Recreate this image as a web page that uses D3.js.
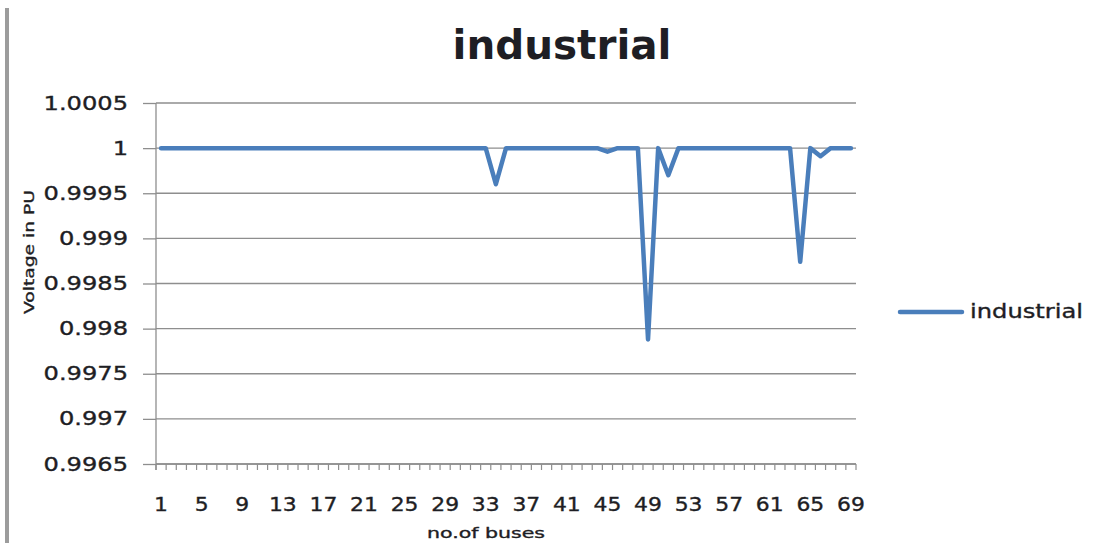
<!DOCTYPE html>
<html>
<head>
<meta charset="utf-8">
<script src="https://cdn.jsdelivr.net/npm/d3@7"></script>
<style>
  html, body { margin: 0; padding: 0; background: #fff; }
  svg { display: block; }
  text { font-family: "DejaVu Sans", Verdana, sans-serif; fill: #1e1e24; }
  text.label { stroke: #1e1e24; stroke-width: 0.35px; }
</style>
</head>
<body>
<svg id="chart" width="1115" height="543"></svg>
<script>
// Bus numbers along the feeder
const buses = [
  1, 2, 3, 4, 5, 6, 7, 8, 9, 10, 11, 12, 13, 14, 15, 16, 17, 18, 19, 20,
  21, 22, 23, 24, 25, 26, 27, 28, 29, 30, 31, 32, 33, 34, 35, 36, 37, 38, 39, 40,
  41, 42, 43, 44, 45, 46, 47, 48, 49, 50, 51, 52, 53, 54, 55, 56, 57, 58, 59, 60,
  61, 62, 63, 64, 65, 66, 67, 68, 69
];

// Per-unit voltage at each bus, industrial load case
const industrial = [
  1, 1, 1, 1, 1, 1, 1, 1, 1, 1, 1, 1, 1, 1, 1, 1, 1, 1, 1, 1,
  1, 1, 1, 1, 1, 1, 1, 1, 1, 1, 1, 1, 1, 0.9996, 1, 1, 1, 1, 1, 1,
  1, 1, 1, 1, 0.99996, 1, 1, 1, 0.99788, 1, 0.9997, 1, 1, 1, 1, 1, 1, 1, 1, 1,
  1, 1, 1, 0.99874, 1, 0.99991, 1, 1, 1
];

// Value axis ticks and their printed labels
const yTicks = [0.9965, 0.997, 0.9975, 0.998, 0.9985, 0.999, 0.9995, 1, 1.0005];
const yTickLabels = ["0.9965", "0.997", "0.9975", "0.998", "0.9985", "0.999", "0.9995", "1", "1.0005"];

// Category labels shown on the bus axis
const xTickLabels = [1, 5, 9, 13, 17, 21, 25, 29, 33, 37, 41, 45, 49, 53, 57, 61, 65, 69];

const svg = d3.select("#chart");

const plotLeft = 156, plotRight = 856, plotTop = 103, plotBottom = 464;
const widen = 1.27;

// Stretch text horizontally to the width of the chart's lettering
function stretch(sel, k) {
  sel.each(function () {
    const w = this.getComputedTextLength();
    this.setAttribute("textLength", w * k);
    this.setAttribute("lengthAdjust", "spacingAndGlyphs");
  });
}

// Frame edge on the left side
svg.append("rect")
  .attr("x", 5).attr("y", 8).attr("width", 4).attr("height", 535)
  .attr("fill", "#9c9c9c");

const x = d3.scaleBand().domain(buses).range([plotLeft, plotRight]).padding(0);
const y = d3.scaleLinear().domain([0.9965, 1.0005]).range([plotBottom, plotTop]);

// Horizontal gridlines
svg.append("g")
  .selectAll("line")
  .data(yTicks)
  .join("line")
  .attr("x1", plotLeft).attr("x2", plotRight)
  .attr("y1", d => y(d)).attr("y2", d => y(d))
  .attr("stroke", "#8e8e8e")
  .attr("stroke-width", 1.3);

// Value axis
const yAxis = svg.append("g")
  .attr("transform", `translate(${plotLeft},0)`)
  .call(d3.axisLeft(y)
    .tickValues(yTicks)
    .tickFormat((d, i) => yTickLabels[i])
    .tickSize(13)
    .tickSizeOuter(0)
    .tickPadding(15));
yAxis.select(".domain").remove();
yAxis.selectAll(".tick line").attr("stroke", "#8e8e8e").attr("stroke-width", 1.3);
yAxis.selectAll(".tick text")
  .attr("class", "label")
  .style("font-size", "19px")
  .attr("fill", "#1e1e24")
  .call(stretch, widen);
yAxis.append("line")
  .attr("x1", 0).attr("x2", 0).attr("y1", plotTop).attr("y2", plotBottom + 6)
  .attr("stroke", "#8e8e8e").attr("stroke-width", 1.3);

// Category axis with a tick at every bus boundary
const xAxis = svg.append("g").attr("transform", `translate(0,${plotBottom})`);
xAxis.append("line")
  .attr("x1", plotLeft).attr("x2", plotRight).attr("y1", 0).attr("y2", 0)
  .attr("stroke", "#8e8e8e").attr("stroke-width", 1.3);
xAxis.selectAll("line.minor")
  .data(buses.map(b => x(b)).concat([x.range()[1]]))
  .join("line")
  .attr("class", "minor")
  .attr("x1", d => d).attr("x2", d => d)
  .attr("y1", 0).attr("y2", 6)
  .attr("stroke", "#8e8e8e").attr("stroke-width", 1.2);

const xLabels = svg.append("g")
  .attr("transform", `translate(0,${plotBottom})`)
  .call(d3.axisBottom(x)
    .tickValues(xTickLabels)
    .tickSize(0)
    .tickPadding(34));
xLabels.select(".domain").remove();
xLabels.selectAll(".tick text")
  .attr("class", "label")
  .style("font-size", "19px")
  .attr("fill", "#1e1e24")
  .call(stretch, 1.15);

// Voltage profile line
const line = d3.line()
  .x((d, i) => x(buses[i]) + x.bandwidth() / 2)
  .y(d => y(d));

svg.append("path")
  .datum(industrial)
  .attr("d", line)
  .attr("fill", "none")
  .attr("stroke", "#4a7ebb")
  .attr("stroke-width", 4.5)
  .attr("stroke-linejoin", "round")
  .attr("stroke-linecap", "round");

// Title
svg.append("text")
  .attr("x", 562).attr("y", 59)
  .attr("text-anchor", "middle")
  .style("font-size", "40px")
  .style("font-weight", "bold")
  .attr("fill", "#000")
  .attr("textLength", 219)
  .attr("lengthAdjust", "spacingAndGlyphs")
  .text("industrial");

// Axis titles
svg.append("text")
  .attr("class", "label")
  .attr("x", 486).attr("y", 538)
  .attr("text-anchor", "middle")
  .style("font-size", "14px")
  .attr("textLength", 118)
  .attr("lengthAdjust", "spacingAndGlyphs")
  .text("no.of buses");

svg.append("text")
  .attr("class", "label")
  .attr("transform", "translate(34,252) rotate(-90)")
  .attr("text-anchor", "middle")
  .style("font-size", "14px")
  .attr("textLength", 124)
  .attr("lengthAdjust", "spacingAndGlyphs")
  .text("Voltage in PU");

// Legend
const legend = svg.append("g").attr("transform", "translate(900,312)");
legend.append("line")
  .attr("x1", 0).attr("x2", 62).attr("y1", 0).attr("y2", 0)
  .attr("stroke", "#4a7ebb").attr("stroke-width", 4.5).attr("stroke-linecap", "round");
legend.append("text")
  .attr("class", "label")
  .attr("x", 70).attr("y", 6)
  .style("font-size", "19px")
  .attr("textLength", 113)
  .attr("lengthAdjust", "spacingAndGlyphs")
  .text("industrial");
</script>
</body>
</html>
